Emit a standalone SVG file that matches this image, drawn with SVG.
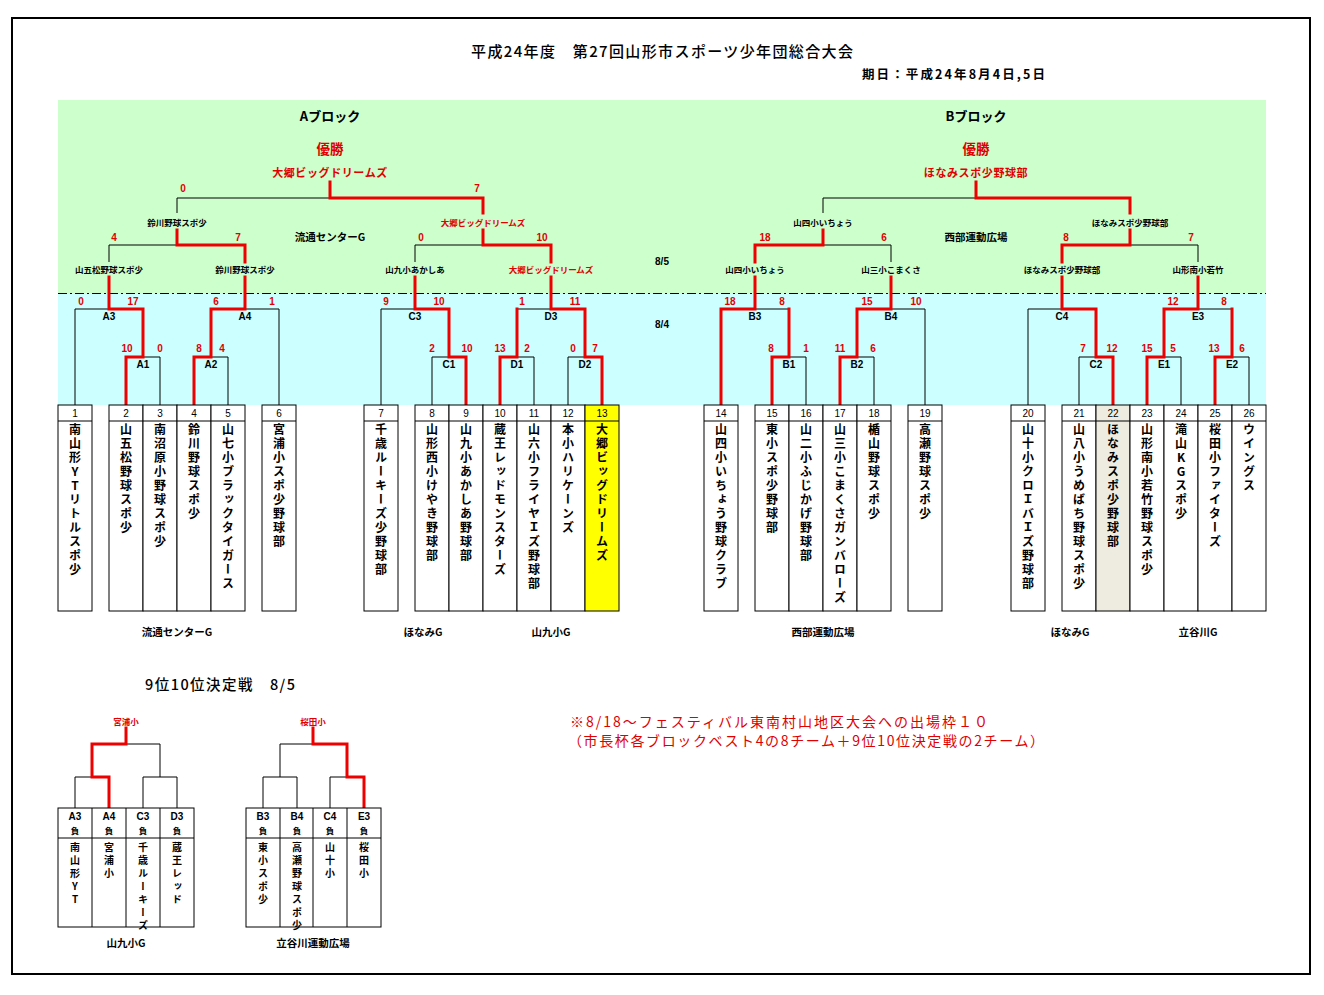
<svg xmlns="http://www.w3.org/2000/svg" width="1324" height="995" viewBox="0 0 1324 995">
<style>
.jp{font-family:"Noto Sans CJK JP","Noto Sans",sans-serif}
.bk{fill:#000}
.rd{fill:#e00000}
.k{stroke:#000;stroke-width:1;fill:none}
.r{stroke:#ee0000;stroke-width:3;fill:none;stroke-linejoin:miter;stroke-linecap:square}
.box{stroke:#000;stroke-width:1;fill:#fff}
.sc{font-family:"Liberation Sans",sans-serif;font-weight:bold;font-size:10px;fill:#e00000;text-anchor:middle}
.ml{font-family:"Liberation Sans",sans-serif;font-weight:bold;font-size:10px;fill:#000;text-anchor:middle}
.no{font-family:"Liberation Sans",sans-serif;font-size:10px;fill:#000;text-anchor:middle}
.sl{font-family:"Noto Sans CJK JP",sans-serif;font-weight:bold;font-size:8.5px;text-anchor:middle}
.tn{font-family:"Noto Sans CJK JP",sans-serif;font-weight:bold;font-size:12px;writing-mode:vertical-rl;text-orientation:upright;letter-spacing:2px;fill:#000}
.tn2{font-family:"Noto Sans CJK JP",sans-serif;font-weight:bold;font-size:10px;writing-mode:vertical-rl;text-orientation:upright;letter-spacing:3px;fill:#000}
.ven{font-family:"Noto Sans CJK JP",sans-serif;font-weight:bold;font-size:10.5px;text-anchor:middle;fill:#000}
</style>
<rect x="0" y="0" width="1324" height="995" fill="#fff"/>
<rect x="12" y="18" width="1298" height="956" fill="none" stroke="#000" stroke-width="2"/>
<rect x="58" y="100" width="1208" height="193" fill="#ccffcc"/>
<rect x="58" y="293" width="1208" height="112" fill="#ccffff"/>
<line x1="58" y1="293.5" x2="1266" y2="293.5" stroke="#000" stroke-width="1" stroke-dasharray="9,3,2,3"/>

<g id="title">
<text x="471" y="57" class="jp" font-size="15" font-weight="500" fill="#000" textLength="382" lengthAdjust="spacing">平成24年度　第27回山形市スポーツ少年団総合大会</text>
<text x="862" y="79" class="jp" font-size="12.5" font-weight="bold" fill="#000" textLength="183" lengthAdjust="spacing">期日：平成24年8月4日,5日</text>
</g>

<g id="block-headers">
<text x="330" y="121" class="jp" font-size="13" font-weight="bold" text-anchor="middle" fill="#000">Aブロック</text>
<text x="976" y="121" class="jp" font-size="13" font-weight="bold" text-anchor="middle" fill="#000">Bブロック</text>
<text x="330" y="154" class="jp rd" font-size="13.5" font-weight="bold" text-anchor="middle">優勝</text>
<text x="976" y="154" class="jp rd" font-size="13.5" font-weight="bold" text-anchor="middle">優勝</text>
<text x="330" y="177" class="jp rd" font-size="11" font-weight="bold" text-anchor="middle" letter-spacing="0.6">大郷ビッグドリームズ</text>
<text x="976" y="177" class="jp rd" font-size="11" font-weight="bold" text-anchor="middle" letter-spacing="0.6">ほなみスポ少野球部</text>
<text x="330" y="241" class="ven">流通センターG</text>
<text x="976" y="241" class="ven">西部運動広場</text>
<text x="662" y="265" class="ml">8/5</text>
<text x="662" y="328" class="ml">8/4</text>
</g>

<g id="connectors">
<path class="k" d="M75,405V309H109 M160,405V357H143 M228,405V357H211 M279,405V309H245 M109,262V245H177 M177,213V198H330 M381,405V309H415 M432,405V357H449 M534,405V357H517 M568,405V357H585 M517,309H551 M415,262V245H483
M806,405V357H789 M755,309H789 M874,405V357H857 M925,405V309H891 M891,262V245H823 M823,213V198H976 M1028,405V309H1062 M1079,405V357H1096 M1181,405V357H1164 M1249,405V357H1232 M1198,309H1232 M1198,262V245H1130"/>
<path class="r" d="M330,182V198H483V213 M483,230V245H551V262 M551,277V309H585V357H602V405 M500,405V357H517V309 M415,277V309H449V357H466V405 M177,230V245H245V262 M245,277V309H211V357H194V405 M109,277V309H143V357H126V405
M976,182V198H1130V213 M1130,230V245H1062V262 M1062,277V309H1096V357H1113V405 M1198,277V309H1164V357H1147V405 M1215,405V357H1232V309 M823,230V245H755V262 M755,277V309H721V405 M772,405V357H789V309 M891,277V309H857V357H840V405"/>
<path class="k" d="M75,808V777H92 M126,744H160V777 M143,808V777H177V808 M263,808V777H297V808 M280,777V744H313 M330,808V777H347"/>
<path class="r" d="M126,728V744H92V777H109V808 M313,728V744H347V777H364V808"/>
</g>

<g id="semi-labels">
<text x="109" y="272.5" class="sl bk">山五松野球スポ少</text>
<text x="245" y="272.5" class="sl bk">鈴川野球スポ少</text>
<text x="177" y="225.5" class="sl bk">鈴川野球スポ少</text>
<text x="415" y="272.5" class="sl bk">山九小あかしあ</text>
<text x="551" y="272.5" class="sl rd">大郷ビッグドリームズ</text>
<text x="483" y="225.5" class="sl rd">大郷ビッグドリームズ</text>
<text x="755" y="272.5" class="sl bk">山四小いちょう</text>
<text x="891" y="272.5" class="sl bk">山三小こまくさ</text>
<text x="823" y="225.5" class="sl bk">山四小いちょう</text>
<text x="1062" y="272.5" class="sl bk">ほなみスポ少野球部</text>
<text x="1198" y="272.5" class="sl bk">山形南小若竹</text>
<text x="1130" y="225.5" class="sl bk">ほなみスポ少野球部</text>
</g>

<g id="final-A"><text x="183" y="192" class="sc">0</text><text x="477" y="192" class="sc">7</text></g>
<g id="semi-A1"><text x="114" y="241" class="sc">4</text><text x="238" y="241" class="sc">7</text></g>
<g id="semi-A2"><text x="421" y="241" class="sc">0</text><text x="542" y="241" class="sc">10</text></g>
<g id="semi-B1"><text x="765" y="241" class="sc">18</text><text x="884" y="241" class="sc">6</text></g>
<g id="semi-B2"><text x="1066" y="241" class="sc">8</text><text x="1191" y="241" class="sc">7</text></g>

<g id="m-A3"><text x="109" y="320" class="ml">A3</text><text x="81" y="305" class="sc">0</text><text x="133" y="305" class="sc">17</text></g>
<g id="m-A1"><text x="143" y="368" class="ml">A1</text><text x="127" y="352" class="sc">10</text><text x="160" y="352" class="sc">0</text></g>
<g id="m-A2"><text x="211" y="368" class="ml">A2</text><text x="199" y="352" class="sc">8</text><text x="222" y="352" class="sc">4</text></g>
<g id="m-A4"><text x="245" y="320" class="ml">A4</text><text x="216" y="305" class="sc">6</text><text x="272" y="305" class="sc">1</text></g>
<g id="m-C3"><text x="415" y="320" class="ml">C3</text><text x="386" y="305" class="sc">9</text><text x="439" y="305" class="sc">10</text></g>
<g id="m-C1"><text x="449" y="368" class="ml">C1</text><text x="432" y="352" class="sc">2</text><text x="467" y="352" class="sc">10</text></g>
<g id="m-D3"><text x="551" y="320" class="ml">D3</text><text x="522" y="305" class="sc">1</text><text x="575" y="305" class="sc">11</text></g>
<g id="m-D1"><text x="517" y="368" class="ml">D1</text><text x="500" y="352" class="sc">13</text><text x="527" y="352" class="sc">2</text></g>
<g id="m-D2"><text x="585" y="368" class="ml">D2</text><text x="573" y="352" class="sc">0</text><text x="595" y="352" class="sc">7</text></g>
<g id="m-B3"><text x="755" y="320" class="ml">B3</text><text x="730" y="305" class="sc">18</text><text x="782" y="305" class="sc">8</text></g>
<g id="m-B1"><text x="789" y="368" class="ml">B1</text><text x="771" y="352" class="sc">8</text><text x="806" y="352" class="sc">1</text></g>
<g id="m-B2"><text x="857" y="368" class="ml">B2</text><text x="840" y="352" class="sc">11</text><text x="873" y="352" class="sc">6</text></g>
<g id="m-B4"><text x="891" y="320" class="ml">B4</text><text x="867" y="305" class="sc">15</text><text x="916" y="305" class="sc">10</text></g>
<g id="m-C4"><text x="1062" y="320" class="ml">C4</text></g>
<g id="m-C2"><text x="1096" y="368" class="ml">C2</text><text x="1083" y="352" class="sc">7</text><text x="1112" y="352" class="sc">12</text></g>
<g id="m-E3"><text x="1198" y="320" class="ml">E3</text><text x="1173" y="305" class="sc">12</text><text x="1224" y="305" class="sc">8</text></g>
<g id="m-E1"><text x="1164" y="368" class="ml">E1</text><text x="1147" y="352" class="sc">15</text><text x="1173" y="352" class="sc">5</text></g>
<g id="m-E2"><text x="1232" y="368" class="ml">E2</text><text x="1214" y="352" class="sc">13</text><text x="1242" y="352" class="sc">6</text></g>

<g id="team-1"><rect class="box" x="58" y="405" width="34" height="206"/><line class="k" x1="58" y1="421" x2="92" y2="421"/><text class="no" x="75" y="417">1</text><text class="tn" x="75" y="423">南山形YTリトルスポ少</text></g>
<g id="team-2"><rect class="box" x="109" y="405" width="34" height="206"/><line class="k" x1="109" y1="421" x2="143" y2="421"/><text class="no" x="126" y="417">2</text><text class="tn" x="126" y="423">山五松野球スポ少</text></g>
<g id="team-3"><rect class="box" x="143" y="405" width="34" height="206"/><line class="k" x1="143" y1="421" x2="177" y2="421"/><text class="no" x="160" y="417">3</text><text class="tn" x="160" y="423">南沼原小野球スポ少</text></g>
<g id="team-4"><rect class="box" x="177" y="405" width="34" height="206"/><line class="k" x1="177" y1="421" x2="211" y2="421"/><text class="no" x="194" y="417">4</text><text class="tn" x="194" y="423">鈴川野球スポ少</text></g>
<g id="team-5"><rect class="box" x="211" y="405" width="34" height="206"/><line class="k" x1="211" y1="421" x2="245" y2="421"/><text class="no" x="228" y="417">5</text><text class="tn" x="228" y="423">山七小ブラックタイガース</text></g>
<g id="team-6"><rect class="box" x="262" y="405" width="34" height="206"/><line class="k" x1="262" y1="421" x2="296" y2="421"/><text class="no" x="279" y="417">6</text><text class="tn" x="279" y="423">宮浦小スポ少野球部</text></g>
<g id="team-7"><rect class="box" x="364" y="405" width="34" height="206"/><line class="k" x1="364" y1="421" x2="398" y2="421"/><text class="no" x="381" y="417">7</text><text class="tn" x="381" y="423">千歳ルーキーズ少野球部</text></g>
<g id="team-8"><rect class="box" x="415" y="405" width="34" height="206"/><line class="k" x1="415" y1="421" x2="449" y2="421"/><text class="no" x="432" y="417">8</text><text class="tn" x="432" y="423">山形西小けやき野球部</text></g>
<g id="team-9"><rect class="box" x="449" y="405" width="34" height="206"/><line class="k" x1="449" y1="421" x2="483" y2="421"/><text class="no" x="466" y="417">9</text><text class="tn" x="466" y="423">山九小あかしあ野球部</text></g>
<g id="team-10"><rect class="box" x="483" y="405" width="34" height="206"/><line class="k" x1="483" y1="421" x2="517" y2="421"/><text class="no" x="500" y="417">10</text><text class="tn" x="500" y="423">蔵王レッドモンスターズ</text></g>
<g id="team-11"><rect class="box" x="517" y="405" width="34" height="206"/><line class="k" x1="517" y1="421" x2="551" y2="421"/><text class="no" x="534" y="417">11</text><text class="tn" x="534" y="423">山六小フライヤＩズ野球部</text></g>
<g id="team-12"><rect class="box" x="551" y="405" width="34" height="206"/><line class="k" x1="551" y1="421" x2="585" y2="421"/><text class="no" x="568" y="417">12</text><text class="tn" x="568" y="423">本小ハリケーンズ</text></g>
<g id="team-13"><rect class="box" x="585" y="405" width="34" height="206" style="fill:#ffff00"/><line class="k" x1="585" y1="421" x2="619" y2="421"/><text class="no" x="602" y="417">13</text><text class="tn" x="602" y="423">大郷ビッグドリームズ</text></g>
<g id="team-14"><rect class="box" x="704" y="405" width="34" height="206"/><line class="k" x1="704" y1="421" x2="738" y2="421"/><text class="no" x="721" y="417">14</text><text class="tn" x="721" y="423">山四小いちょう野球クラブ</text></g>
<g id="team-15"><rect class="box" x="755" y="405" width="34" height="206"/><line class="k" x1="755" y1="421" x2="789" y2="421"/><text class="no" x="772" y="417">15</text><text class="tn" x="772" y="423">東小スポ少野球部</text></g>
<g id="team-16"><rect class="box" x="789" y="405" width="34" height="206"/><line class="k" x1="789" y1="421" x2="823" y2="421"/><text class="no" x="806" y="417">16</text><text class="tn" x="806" y="423">山二小ふじかげ野球部</text></g>
<g id="team-17"><rect class="box" x="823" y="405" width="34" height="206"/><line class="k" x1="823" y1="421" x2="857" y2="421"/><text class="no" x="840" y="417">17</text><text class="tn" x="840" y="423">山三小こまくさガンバローズ</text></g>
<g id="team-18"><rect class="box" x="857" y="405" width="34" height="206"/><line class="k" x1="857" y1="421" x2="891" y2="421"/><text class="no" x="874" y="417">18</text><text class="tn" x="874" y="423">楯山野球スポ少</text></g>
<g id="team-19"><rect class="box" x="908" y="405" width="34" height="206"/><line class="k" x1="908" y1="421" x2="942" y2="421"/><text class="no" x="925" y="417">19</text><text class="tn" x="925" y="423">高瀬野球スポ少</text></g>
<g id="team-20"><rect class="box" x="1011" y="405" width="34" height="206"/><line class="k" x1="1011" y1="421" x2="1045" y2="421"/><text class="no" x="1028" y="417">20</text><text class="tn" x="1028" y="423">山十小クロＩバＩズ野球部</text></g>
<g id="team-21"><rect class="box" x="1062" y="405" width="34" height="206"/><line class="k" x1="1062" y1="421" x2="1096" y2="421"/><text class="no" x="1079" y="417">21</text><text class="tn" x="1079" y="423">山八小うめばち野球スポ少</text></g>
<g id="team-22"><rect class="box" x="1096" y="405" width="34" height="206" style="fill:#eeece1"/><line class="k" x1="1096" y1="421" x2="1130" y2="421"/><text class="no" x="1113" y="417">22</text><text class="tn" x="1113" y="423">ほなみスポ少野球部</text></g>
<g id="team-23"><rect class="box" x="1130" y="405" width="34" height="206"/><line class="k" x1="1130" y1="421" x2="1164" y2="421"/><text class="no" x="1147" y="417">23</text><text class="tn" x="1147" y="423">山形南小若竹野球スポ少</text></g>
<g id="team-24"><rect class="box" x="1164" y="405" width="34" height="206"/><line class="k" x1="1164" y1="421" x2="1198" y2="421"/><text class="no" x="1181" y="417">24</text><text class="tn" x="1181" y="423">滝山KGスポ少</text></g>
<g id="team-25"><rect class="box" x="1198" y="405" width="34" height="206"/><line class="k" x1="1198" y1="421" x2="1232" y2="421"/><text class="no" x="1215" y="417">25</text><text class="tn" x="1215" y="423">桜田小ファイターズ</text></g>
<g id="team-26"><rect class="box" x="1232" y="405" width="34" height="206"/><line class="k" x1="1232" y1="421" x2="1266" y2="421"/><text class="no" x="1249" y="417">26</text><text class="tn" x="1249" y="423">ウイングス</text></g>

<g id="venues">
<text x="177" y="636" class="ven">流通センターG</text>
<text x="423" y="636" class="ven">ほなみG</text>
<text x="551" y="636" class="ven">山九小G</text>
<text x="823" y="636" class="ven">西部運動広場</text>
<text x="1070" y="636" class="ven">ほなみG</text>
<text x="1198" y="636" class="ven">立谷川G</text>
</g>

<g id="playoff-title"><text x="145" y="690" class="jp" font-size="14.5" font-weight="500" fill="#000" textLength="150" lengthAdjust="spacing">9位10位決定戦　8/5</text></g>

<g id="note">
<text x="570" y="727" class="jp rd" font-size="14" textLength="418" lengthAdjust="spacing">※8/18～フェスティバル東南村山地区大会への出場枠１０</text>
<text x="568" y="746" class="jp rd" font-size="14" textLength="476" lengthAdjust="spacing">（市長杯各ブロックベスト4の8チーム＋9位10位決定戦の2チーム）</text>
</g>

<g id="playoff-1">
<text x="126" y="725" class="sl rd">宮浦小</text>
<rect class="box" x="58" y="808" width="136" height="119"/>
<path class="k" d="M58,838H194 M92,808V927 M126,808V927 M160,808V927"/>
<text x="75" y="820" class="ml">A3</text><text x="109" y="820" class="ml">A4</text><text x="143" y="820" class="ml">C3</text><text x="177" y="820" class="ml">D3</text>
<text x="75" y="834" class="sl bk" font-size="10">負</text><text x="109" y="834" class="sl bk" font-size="10">負</text><text x="143" y="834" class="sl bk" font-size="10">負</text><text x="177" y="834" class="sl bk" font-size="10">負</text>
<text class="tn2" x="75" y="842">南山形YT</text>
<text class="tn2" x="109" y="842">宮浦小</text>
<text class="tn2" x="143" y="842">千歳ルーキーズ</text>
<text class="tn2" x="177" y="842">蔵王レッド</text>
<text x="126" y="947" class="ven">山九小G</text>
</g>

<g id="playoff-2">
<text x="313" y="725" class="sl rd">桜田小</text>
<rect class="box" x="246" y="808" width="135" height="119"/>
<path class="k" d="M246,838H381 M280,808V927 M313,808V927 M347,808V927"/>
<text x="263" y="820" class="ml">B3</text><text x="297" y="820" class="ml">B4</text><text x="330" y="820" class="ml">C4</text><text x="364" y="820" class="ml">E3</text>
<text x="263" y="834" class="sl bk" font-size="10">負</text><text x="297" y="834" class="sl bk" font-size="10">負</text><text x="330" y="834" class="sl bk" font-size="10">負</text><text x="364" y="834" class="sl bk" font-size="10">負</text>
<text class="tn2" x="263" y="842">東小スポ少</text>
<text class="tn2" x="297" y="842">高瀬野球スポ少</text>
<text class="tn2" x="330" y="842">山十小</text>
<text class="tn2" x="364" y="842">桜田小</text>
<text x="313" y="947" class="ven">立谷川運動広場</text>
</g>
</svg>
